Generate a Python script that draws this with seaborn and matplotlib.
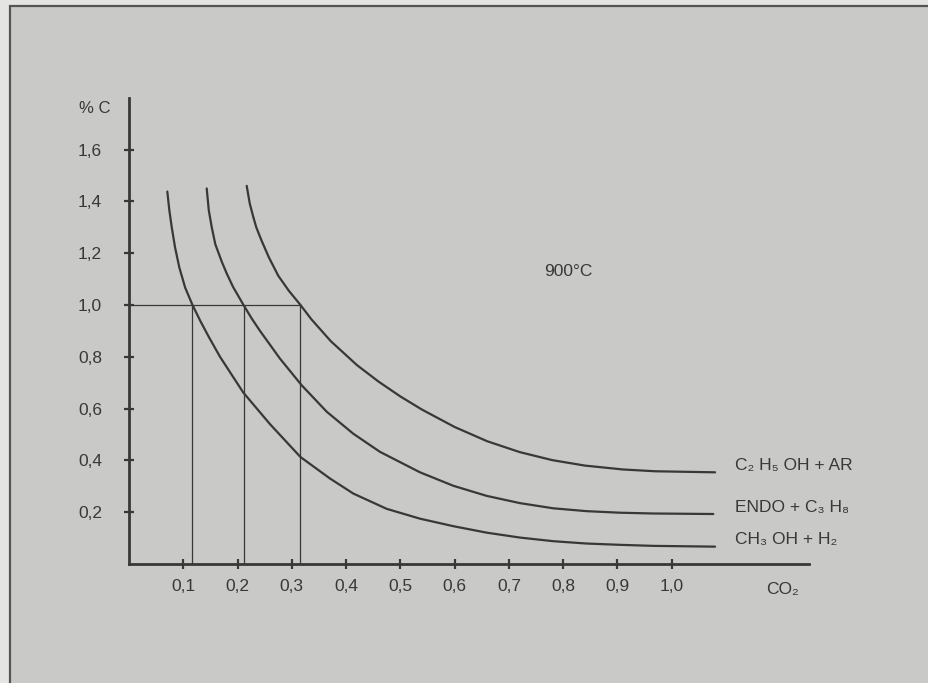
import numpy as np
import pandas as pd
import seaborn as sns
import matplotlib.pyplot as plt
from matplotlib.patches import Rectangle

# curves (CO2 vs %C at 900 C)
ch3oh_x = [0.0706, 0.0743, 0.0787, 0.0848, 0.0927, 0.1035, 0.1170, 0.1315, 0.1465, 0.1677, 0.2106,
           0.2598, 0.3160, 0.3704, 0.4133, 0.4748, 0.5362, 0.5976, 0.6591, 0.7205, 0.7819, 0.8434,
           0.9048, 0.9661, 1.0798]
ch3oh_y = [1.438, 1.366, 1.301, 1.223, 1.145, 1.067, 1.000, 0.938, 0.879, 0.800, 0.662,
           0.540, 0.413, 0.330, 0.272, 0.213, 0.175, 0.146, 0.121, 0.102, 0.088, 0.079,
           0.074, 0.070, 0.067]

endo_x = [0.1432, 0.1470, 0.1524, 0.1590, 0.1708, 0.1800, 0.1917, 0.2110, 0.2261, 0.2414, 0.2782,
          0.3182, 0.3643, 0.4133, 0.4625, 0.5362, 0.5976, 0.6591, 0.7205, 0.7819, 0.8434, 0.9048,
          0.9661, 1.0767]
endo_y = [1.450, 1.366, 1.301, 1.235, 1.168, 1.122, 1.070, 1.000, 0.948, 0.900, 0.793,
          0.690, 0.588, 0.503, 0.433, 0.354, 0.302, 0.263, 0.235, 0.215, 0.204, 0.198,
          0.195, 0.193]

c2h5oh_x = [0.2169, 0.2225, 0.2290, 0.2345, 0.2440, 0.2575, 0.2750, 0.2945, 0.3160, 0.3360, 0.3720,
            0.4200, 0.4600, 0.5000, 0.5400, 0.6000, 0.6600, 0.7200, 0.7800, 0.8400, 0.9100,
            0.9700, 1.0800]
c2h5oh_y = [1.460, 1.392, 1.340, 1.300, 1.250, 1.185, 1.113, 1.055, 1.000, 0.945, 0.860,
            0.768, 0.704, 0.647, 0.596, 0.529, 0.474, 0.432, 0.401, 0.380, 0.365,
            0.358, 0.354]

curve_names = ["CH\u2083 OH + H\u2082", "ENDO + C\u2083 H\u2088", "C\u2082 H\u2085 OH + AR"]
curve_label_y = [0.096, 0.219, 0.381]

# construction lines at %C = 1,0
guide_x = [0.117, 0.211, 0.316]
guide_c = 1.0

x_ticks = [0.1, 0.2, 0.3, 0.4, 0.5, 0.6, 0.7, 0.8, 0.9, 1.0]
y_ticks = [0.2, 0.4, 0.6, 0.8, 1.0, 1.2, 1.4, 1.6]

df = pd.concat([
    pd.DataFrame({"co2": ch3oh_x, "c": ch3oh_y, "mix": curve_names[0]}),
    pd.DataFrame({"co2": endo_x, "c": endo_y, "mix": curve_names[1]}),
    pd.DataFrame({"co2": c2h5oh_x, "c": c2h5oh_y, "mix": curve_names[2]}),
])

bg = "#c9c9c7"
ink = "#383838"

sns.set_style("white")
plt.rcParams["font.family"] = ["Liberation Sans", "DejaVu Sans"]

fig = plt.figure(figsize=(9.29, 6.83), dpi=100)
fig.patch.set_facecolor("#e4e4e2")
fig.add_artist(Rectangle((10 / 929, -0.02), 1.0, (683 - 6) / 683 + 0.02,
                         transform=fig.transFigure, facecolor=bg,
                         edgecolor="#555555", linewidth=1.6, zorder=0))

ax = fig.add_axes([129 / 929, (683 - 564) / 683, 680 / 929, 466 / 683])
ax.set_facecolor("none")

sns.lineplot(data=df, x="co2", y="c", hue="mix", units="mix", estimator=None,
             palette=[ink] * 3, linewidth=1.6, legend=False, sort=False, ax=ax)

ax.hlines(guide_c, 0, max(guide_x), color=ink, linewidth=0.9)
ax.vlines(guide_x, 0, guide_c, color=ink, linewidth=0.9)

ax.set_xlim(0, 1.253)
ax.set_ylim(0, 466 / 259)
ax.set_xticks(x_ticks)
ax.set_yticks(y_ticks)
ax.set_xticklabels([f"{v:.1f}".replace(".", ",") for v in x_ticks])
ax.set_yticklabels([f"{v:.1f}".replace(".", ",") for v in y_ticks])
ax.tick_params(axis="x", bottom=True, direction="inout", length=7, width=1.6, color=ink,
               labelcolor=ink, labelsize=12.5, pad=7)
ax.tick_params(axis="y", left=True, direction="inout", length=7, width=1.6, color=ink,
               labelcolor=ink, labelsize=12.5, pad=16)
ax.set_xlabel("")
ax.set_ylabel("")

sns.despine(ax=ax)
for side in ["left", "bottom"]:
    ax.spines[side].set_color(ink)
    ax.spines[side].set_linewidth(2.0)

ax.text(-0.063, 1.76, "% C", ha="center", va="center", fontsize=12, color=ink, clip_on=False)
ax.text(1.204, -0.10, "CO\u2082", ha="center", va="center", fontsize=12.5, color=ink, clip_on=False)
ax.text(0.809, 1.13, "900\u00b0C", ha="center", va="center", fontsize=12.5, color=ink)
for name, yy in zip(curve_names, curve_label_y):
    ax.text(1.117, yy, name, ha="left", va="center", fontsize=12.5, color=ink, clip_on=False)

fig.savefig("out.png", dpi=100, facecolor=fig.get_facecolor())
